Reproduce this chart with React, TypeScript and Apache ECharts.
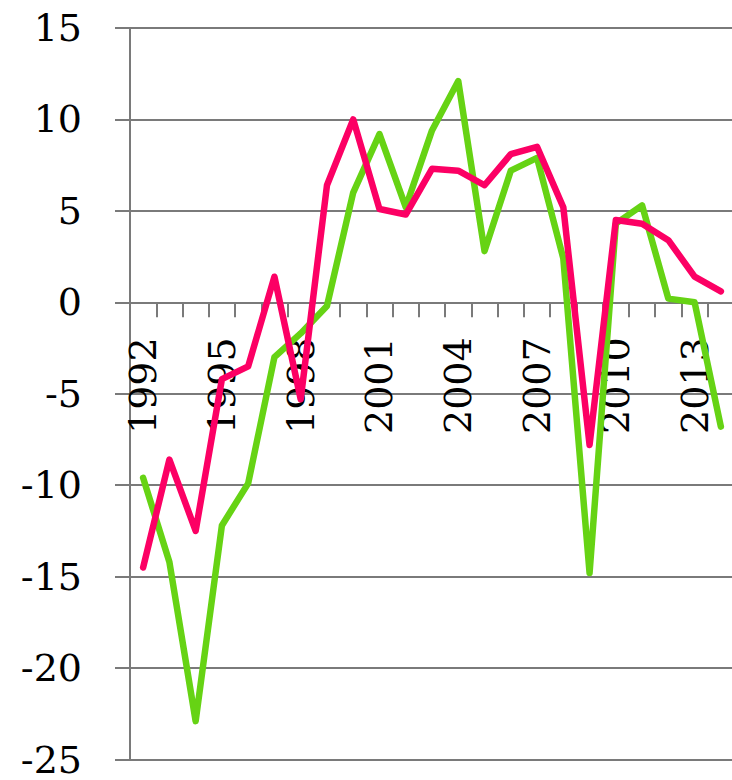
import React, { useEffect, useRef } from "react";
import * as echarts from "echarts";

const years = [
  "1992", "1993", "1994", "1995", "1996", "1997", "1998", "1999", "2000", "2001", "2002", "2003",
  "2004", "2005", "2006", "2007", "2008", "2009", "2010", "2011", "2012", "2013", "2014",
];

const greenSeries = [
  -9.6, -14.2, -22.9, -12.2, -9.9, -3.0, -1.7, -0.2, 6.0, 9.2, 5.2, 9.4,
  12.1, 2.8, 7.2, 7.9, 2.4, -14.8, 4.3, 5.3, 0.2, 0.0, -6.8,
];

const pinkSeries = [
  -14.5, -8.6, -12.5, -4.2, -3.5, 1.4, -5.3, 6.4, 10.0, 5.1, 4.8, 7.3,
  7.2, 6.4, 8.1, 8.5, 5.2, -7.8, 4.5, 4.3, 3.4, 1.4, 0.6,
];

const yMin = -25;
const yMax = 15;
const yStep = 5;

const FONT = "DejaVu Serif";
const GRAY = "#7a7a7a";

const GRID_TOP = 28;
const GRID_HEIGHT = 731.5;
// distance from the bottom of the plot to the zero line
const ZERO_OFFSET = (GRID_HEIGHT * (0 - yMin)) / (yMax - yMin);

export default function App() {
  const ref = useRef<HTMLDivElement>(null);

  useEffect(() => {
    if (!ref.current) return;
    const chart = echarts.init(ref.current, undefined, { renderer: "svg" });
    chart.setOption({
      animation: false,
      backgroundColor: "#ffffff",
      grid: {
        left: 130,
        top: GRID_TOP,
        width: 604,
        height: GRID_HEIGHT,
        containLabel: false,
        outerBoundsMode: "none",
      },
      xAxis: {
        type: "category",
        data: years,
        boundaryGap: true,
        position: "bottom",
        offset: -ZERO_OFFSET,
        axisLine: { onZero: false, lineStyle: { color: GRAY, width: 2 } },
        axisTick: { show: true, interval: 0, length: 15, lineStyle: { color: GRAY, width: 2 } },
        axisLabel: {
          interval: 2,
          rotate: 90,
          margin: 35,
          color: "#000000",
          fontFamily: FONT,
          fontSize: 38,
        },
        splitLine: { show: false },
      },
      yAxis: {
        type: "value",
        min: yMin,
        max: yMax,
        interval: yStep,
        axisLine: { show: true, lineStyle: { color: GRAY, width: 2 } },
        axisTick: { show: true, length: 15, lineStyle: { color: GRAY, width: 2 } },
        axisLabel: {
          margin: 48,
          color: "#000000",
          fontFamily: FONT,
          fontSize: 38,
        },
        splitLine: { show: true, lineStyle: { color: GRAY, width: 2 } },
      },
      series: [
        {
          type: "line",
          data: greenSeries,
          symbol: "none",
          lineStyle: { color: "#66d314", width: 6.5, cap: "round", join: "round" },
          z: 3,
        },
        {
          type: "line",
          data: pinkSeries,
          symbol: "none",
          lineStyle: { color: "#fc0064", width: 6.5, cap: "round", join: "round" },
          z: 4,
        },
      ],
    });
    return () => chart.dispose();
  }, []);

  return (
    <div
      ref={ref}
      style={{ position: "fixed", left: 0, top: 0, width: 732, height: 780 }}
    />
  );
}
